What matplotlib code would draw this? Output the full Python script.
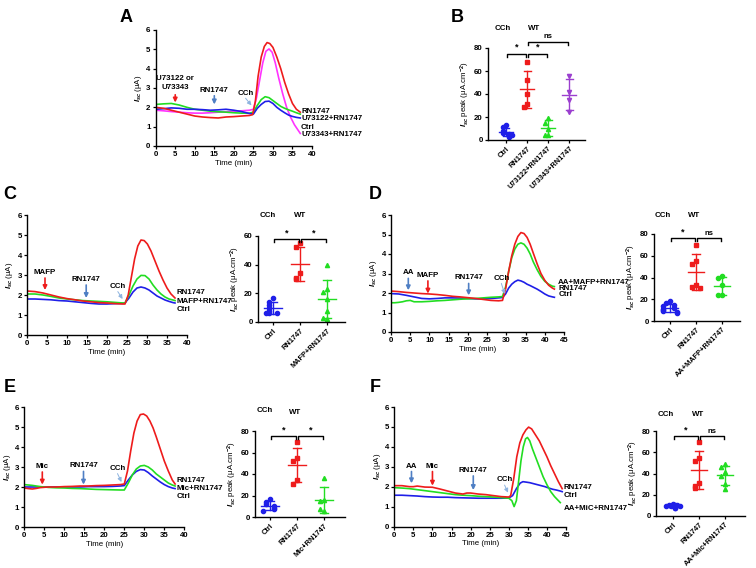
import matplotlib
matplotlib.use('Agg')
import matplotlib.pyplot as plt

FS = 5.7
plt.rcParams['font.family'] = 'Liberation Sans'
plt.rcParams['font.weight'] = 'bold'
plt.rcParams['font.size'] = FS
plt.rcParams['mathtext.fontset'] = 'custom'
plt.rcParams['mathtext.it'] = 'Liberation Sans:italic:bold'
plt.rcParams['mathtext.rm'] = 'Liberation Sans:bold'
plt.rcParams['axes.linewidth'] = 1.0

RED = '#ee1c1c'
GREEN = '#22dd22'
BLUE = '#1f1fe8'
MAGENTA = '#ff33ff'
PURPLE = '#9b3fcf'
ARROW_BLUE = '#4f7fc4'
CCH_BLUE = '#8db3df'

# ---------------- Panel A traces ----------------
a_t_red = [0, 2, 4, 6, 8, 10, 12, 14, 16, 18, 20, 22, 24, 24.8, 25.5, 26.2, 27, 27.8, 28.5, 29.2, 30, 31, 32, 33, 34, 35, 36, 37]
a_red = [2.0, 1.95, 1.85, 1.75, 1.65, 1.55, 1.5, 1.47, 1.45, 1.5, 1.52, 1.55, 1.58, 1.62, 2.3, 3.6, 4.6, 5.15, 5.35, 5.3, 5.1, 4.6, 4.0, 3.3, 2.7, 2.2, 1.9, 1.75]
a_t_mag = [0, 2, 4, 6, 8, 10, 12, 14, 16, 18, 20, 22, 24, 25, 25.8, 26.6, 27.4, 28.2, 29, 29.8, 30.6, 31.5, 32.5, 33.5, 34.5, 35.5, 36.5, 37]
a_mag = [1.85, 1.82, 1.78, 1.75, 1.72, 1.7, 1.7, 1.72, 1.75, 1.77, 1.8, 1.82, 1.85, 1.9, 2.5, 3.4, 4.3, 4.9, 5.02, 4.85, 4.3, 3.5, 2.7, 2.0, 1.5, 1.1, 0.8, 0.65]
a_t_grn = [0, 2, 4, 6, 8, 10, 12, 14, 16, 18, 20, 22, 24, 25, 26, 27, 28, 29, 30, 31, 32, 33, 34, 35, 36, 37]
a_grn = [2.15, 2.18, 2.2, 2.12, 2.0, 1.9, 1.85, 1.8, 1.77, 1.75, 1.72, 1.7, 1.7, 1.75, 2.1, 2.4, 2.55, 2.5, 2.35, 2.2, 2.05, 1.95, 1.87, 1.8, 1.72, 1.65]
a_t_blu = [0, 2, 4, 6, 8, 10, 12, 14, 16, 18, 20, 22, 24, 25, 26, 27, 28, 29, 30, 31, 32, 33, 34, 35, 36, 37]
a_blu = [1.9, 1.93, 1.97, 1.95, 1.9, 1.9, 1.88, 1.85, 1.87, 1.9, 1.85, 1.78, 1.68, 1.65, 1.95, 2.15, 2.3, 2.32, 2.2, 2.0, 1.85, 1.72, 1.6, 1.53, 1.48, 1.45]
a_labels = ['RN1747', 'U73122+RN1747', 'Ctrl', 'U73343+RN1747']
a_label_y = [1.81, 1.4, 0.98, 0.57]

# ---------------- Panel C traces ----------------
c_t_red = [0, 2, 4, 6, 8, 10, 12, 14, 16, 18, 20, 22, 24, 24.5, 25.3, 26.1, 26.9, 27.7, 28.5, 29.3, 30.1, 31, 32, 33, 34, 35, 36, 37]
c_red = [2.2, 2.17, 2.1, 2.0, 1.9, 1.82, 1.76, 1.7, 1.66, 1.62, 1.6, 1.57, 1.55, 1.55, 2.0, 2.9, 3.8, 4.45, 4.75, 4.72, 4.55, 4.2, 3.7, 3.2, 2.75, 2.35, 2.05, 1.85]
c_t_grn = [0, 2, 4, 6, 8, 10, 12, 14, 16, 18, 20, 22, 24, 24.5, 25.5, 26.5, 27.5, 28.5, 29.5, 30.5, 31.5, 32.5, 33.5, 34.5, 35.5, 36.5, 37]
c_grn = [2.05, 2.05, 2.0, 1.93, 1.85, 1.8, 1.76, 1.72, 1.7, 1.68, 1.66, 1.63, 1.6, 1.6, 2.0, 2.45, 2.8, 2.98, 2.97, 2.8, 2.5, 2.25, 2.05, 1.9, 1.8, 1.75, 1.72]
c_t_blu = [0, 2, 4, 6, 8, 10, 12, 14, 16, 18, 20, 22, 24, 24.5, 25.5, 26.5, 27.5, 28.5, 29.5, 30.5, 31.5, 32.5, 33.5, 34.5, 35.5, 36.5, 37]
c_blu = [1.8, 1.8, 1.78, 1.76, 1.72, 1.7, 1.66, 1.62, 1.58, 1.55, 1.55, 1.57, 1.58, 1.6, 1.85, 2.15, 2.35, 2.4, 2.35, 2.25, 2.1, 1.95, 1.85, 1.75, 1.68, 1.62, 1.6]
c_labels = ['RN1747', 'MAFP+RN1747', 'Ctrl']
c_label_y = [2.12, 1.7, 1.28]

# ---------------- Panel D traces ----------------
d_t_red = [0, 2, 4, 6, 8, 10, 12, 14, 16, 18, 20, 22, 24, 26, 28, 29, 29.8, 30.6, 31.4, 32.2, 33, 33.8, 34.6, 35.4, 36.2, 37, 38, 39, 40, 41, 42, 42.5]
d_red = [2.1, 2.07, 2.03, 2.0, 1.97, 1.95, 1.92, 1.88, 1.83, 1.8, 1.76, 1.72, 1.67, 1.62, 1.6, 1.62, 2.2, 3.1, 3.9, 4.5, 4.9, 5.1, 5.05, 4.85, 4.5, 4.05, 3.5, 3.0, 2.65, 2.4, 2.25, 2.2]
d_t_grn = [0, 1, 2, 3, 4, 5, 6, 8, 10, 12, 14, 16, 18, 20, 22, 24, 26, 28, 29, 29.8, 30.6, 31.4, 32.2, 33, 33.8, 34.6, 35.4, 36.2, 37, 38, 39, 40, 41, 42, 42.5]
d_grn = [1.5, 1.5, 1.52, 1.55, 1.6, 1.62, 1.55, 1.55, 1.57, 1.6, 1.62, 1.65, 1.68, 1.7, 1.72, 1.75, 1.78, 1.8, 1.82, 2.3, 3.1, 3.8, 4.25, 4.5, 4.57, 4.5, 4.3, 4.0, 3.6, 3.2, 2.85, 2.6, 2.45, 2.35, 2.33]
d_t_blu = [0, 2, 4, 6, 8, 10, 12, 14, 16, 18, 20, 22, 24, 26, 28, 29, 29.8, 30.6, 31.4, 32.2, 33, 33.8, 34.6, 35.4, 36.2, 37, 38, 39, 40, 41, 42, 42.5]
d_blu = [1.97, 1.95, 1.88, 1.8, 1.72, 1.7, 1.72, 1.75, 1.75, 1.74, 1.72, 1.7, 1.7, 1.72, 1.75, 1.77, 1.95, 2.25, 2.45, 2.58, 2.66, 2.62, 2.55, 2.45, 2.38, 2.3, 2.2, 2.08, 1.95, 1.85, 1.8, 1.78]
d_labels = ['AA+MAFP+RN1747', 'RN1747', 'Ctrl']
d_label_y = [2.56, 2.24, 1.92]

# ---------------- Panel E traces ----------------
e_t_red = [0, 1, 2, 3, 4, 6, 8, 10, 12, 14, 16, 18, 20, 22, 24, 25, 25.8, 26.6, 27.4, 28.2, 29, 29.8, 30.6, 31.4, 32.2, 33, 34, 35, 36, 37, 37.7]
e_red = [1.95, 1.92, 1.9, 1.93, 1.97, 2.0, 2.0, 2.02, 2.03, 2.05, 2.05, 2.07, 2.08, 2.1, 2.12, 2.15, 2.8, 3.8, 4.7, 5.3, 5.62, 5.65, 5.55, 5.3, 4.95, 4.5, 3.9, 3.3, 2.8, 2.35, 2.15]
e_t_grn = [0, 2, 4, 6, 8, 10, 12, 14, 16, 18, 20, 22, 24, 25, 26, 27, 28, 29, 30, 31, 32, 33, 34, 35, 36, 37, 37.7]
e_grn = [2.12, 2.08, 2.02, 1.98, 1.96, 1.95, 1.93, 1.92, 1.9, 1.88, 1.87, 1.86, 1.85, 1.85, 2.2, 2.6, 2.9, 3.05, 3.08, 3.0, 2.85, 2.65, 2.5, 2.35, 2.2, 2.1, 2.05]
e_t_blu = [0, 2, 4, 6, 8, 10, 12, 14, 16, 18, 20, 22, 24, 25, 26, 27, 28, 29, 30, 31, 32, 33, 34, 35, 36, 37, 37.7]
e_blu = [2.0, 2.0, 2.0, 2.0, 2.0, 2.0, 2.0, 2.0, 2.02, 2.02, 2.02, 2.03, 2.05, 2.07, 2.35, 2.6, 2.78, 2.87, 2.85, 2.72, 2.55, 2.4, 2.25, 2.12, 2.02, 1.95, 1.92]
e_labels = ['RN1747', 'Mic+RN1747', 'Ctrl']
e_label_y = [2.33, 1.95, 1.55]

# ---------------- Panel F traces ----------------
f_t_red = [0, 2, 4, 5, 6, 8, 10, 12, 14, 16, 18, 19, 20, 22, 24, 26, 28, 30, 30.5, 31.3, 32.1, 32.9, 33.7, 34.5, 35.2, 36, 37, 38, 39, 40, 41, 42, 43, 44]
f_red = [2.05, 2.05, 2.0, 2.0, 2.03, 1.98, 1.97, 1.88, 1.78, 1.68, 1.63, 1.68, 1.68, 1.63, 1.6, 1.55, 1.5, 1.48, 1.55, 2.4, 3.5, 4.2, 4.6, 4.85, 4.99, 4.9, 4.6, 4.3, 3.9, 3.5, 3.05, 2.65, 2.25, 1.9]
f_t_grn = [0, 2, 4, 6, 8, 10, 12, 14, 16, 18, 20, 22, 24, 26, 28, 30, 30.8, 31.4, 32, 32.6, 33.2, 33.8, 34.4, 34.9, 35.5, 36.2, 37, 38, 39, 40, 41, 42, 43, 43.5]
f_grn = [1.95, 1.93, 1.9, 1.85, 1.8, 1.75, 1.7, 1.65, 1.6, 1.57, 1.55, 1.52, 1.5, 1.48, 1.45, 1.42, 1.3, 1.0, 1.3, 2.3, 3.3, 4.0, 4.4, 4.47, 4.3, 3.9, 3.5, 3.0, 2.5, 2.1, 1.75, 1.5, 1.3, 1.2]
f_t_blu = [0, 2, 4, 6, 8, 10, 12, 14, 16, 18, 20, 22, 24, 26, 28, 30, 31, 32, 33, 33.7, 34.5, 35.5, 36.5, 37.5, 38.5, 39.5, 40.5, 41.5, 42.5, 43.5, 44]
f_blu = [1.57, 1.57, 1.55, 1.53, 1.5, 1.48, 1.47, 1.47, 1.45, 1.44, 1.43, 1.42, 1.42, 1.42, 1.42, 1.43, 1.55, 1.9, 2.18, 2.25, 2.23, 2.2, 2.15, 2.1, 2.05, 2.0, 1.93, 1.87, 1.83, 1.78, 1.75]
f_labels = ['RN1747', 'Ctrl', 'AA+MiC+RN1747']
f_label_y = [1.95, 1.58, 0.9]

# ---------------- Scatter (peak Isc) data ----------------
b_cats = ['Ctrl', 'RN1747', 'U73122+RN1747', 'U73343+RN1747']
b_ctrl = [13, 11, 8, 6, 5, 3, 4]
b_rn = [68, 52, 40, 31, 29]
b_u73122 = [19, 15, 10, 4, 4]
b_u73343 = [56, 42, 35, 24]

c_cats = ['Ctrl', 'RN1747', 'MAFP+RN1747']
c_ctrl = [17, 14, 12, 10, 8, 6, 6, 6]
c_rn = [55, 52, 34, 31, 30]
c_mafp = [40, 23, 21, 16, 8, 2, 3]

d_cats = ['Ctrl', 'RN1747', 'AA+MAFP+RN1747']
d_ctrl = [18, 17, 15, 14, 12, 11, 10, 9, 8, 7]
d_rn = [70, 55, 52, 33, 31, 30]
d_aa = [41, 40, 33, 24, 24]

e_cats = ['Ctrl', 'RN1747', 'Mic+RN1747']
e_ctrl = [17, 14, 12, 10, 8, 7, 6]
e_rn = [70, 55, 52, 34, 31]
e_mic = [36, 16, 15, 6, 7]

f_cats = ['Ctrl', 'RN1747', 'AA+Mic+RN1747']
f_ctrl = [11, 10, 10, 9, 9, 9, 8, 8, 10]
f_rn = [70, 55, 52, 31, 28, 26]
f_aa = [49, 46, 41, 38, 30, 25]

W, H = 756, 568
fig = plt.figure(figsize=(W / 100, H / 100), dpi=100)


def box(x0, y0, x1, y1):
    # axes from pixel corners (top-left origin)
    return fig.add_axes([x0 / W, 1 - y1 / H, (x1 - x0) / W, (y1 - y0) / H])


def style(ax):
    ax.spines['top'].set_visible(False)
    ax.spines['right'].set_visible(False)
    ax.tick_params(length=2.5, width=0.9, pad=1.2, labelsize=FS)


def arrow(ax, x, y0, y1, color, text=None, ty=None, dx=0.0):
    ax.annotate('', xy=(x, y1), xytext=(x - dx, y0),
                arrowprops=dict(arrowstyle='-|>', color=color, lw=1.2 if dx == 0 else 0.7,
                                mutation_scale=6, shrinkA=0, shrinkB=0))
    if text:
        ax.text(x - dx, ty, text, ha='center', va='bottom', fontsize=FS, linespacing=1.3)


def trace_panel(pos, xmax, traces, label_x, labels, label_y, marks):
    ax = box(*pos)
    style(ax)
    for t, y, c in traces:
        ax.plot(t, y, color=c, lw=1.2)
    ax.set_xlim(0, xmax)
    ax.set_ylim(0, 6)
    ax.set_xticks(range(0, xmax + 1, 5))
    ax.set_yticks(range(0, 7))
    ax.set_xlabel('Time (min)', labelpad=1, fontsize=FS)
    ax.set_ylabel(r'$I_{sc}$ (μA)', labelpad=1.5, fontsize=FS)
    for s, yy in zip(labels, label_y):
        ax.text(label_x, yy, s, va='center', ha='left', fontsize=FS, clip_on=False)
    for m in marks:
        arrow(ax, *m)
    return ax


def offsets(vals, tol):
    out = []
    for i, v in enumerate(vals):
        n = sum(abs(v - w) < tol for w in vals[:i])
        out.append([0, -0.15, 0.15, -0.28, 0.28, -0.08, 0.08][min(n, 6)])
    return out


def dot_panel(pos, xlim, ymax, cats, groups, brackets, header_px):
    ax = box(*pos)
    style(ax)
    for i, (vals, c, mk) in enumerate(groups):
        m = sum(vals) / len(vals)
        sd = (sum((v - m) ** 2 for v in vals) / (len(vals) - 1)) ** 0.5
        xs = [i + o for o in offsets(vals, ymax * 0.06)]
        ax.plot(xs, vals, mk, color=c, ms=3.0, ls='none', clip_on=False)
        ax.plot([i - 0.32, i + 0.32], [m, m], color=c, lw=1.0)
        ax.plot([i, i], [max(m - sd, 0), m + sd], color=c, lw=1.0)
        for e in (m - sd, m + sd):
            if e > 0:
                ax.plot([i - 0.16, i + 0.16], [e, e], color=c, lw=1.0)
    for x1, x2, y, s in brackets:
        tk = ymax * 0.035
        ax.plot([x1 + 0.05, x1 + 0.05, x2 - 0.05, x2 - 0.05], [y - tk, y, y, y - tk],
                color='black', lw=1.0, clip_on=False)
        ax.text((x1 + x2) / 2, y + ymax * 0.02, s, ha='center', va='bottom',
                fontsize=5.5 if s == 'ns' else 6.5, clip_on=False)
    ax.set_xlim(*xlim)
    ax.set_ylim(0, ymax)
    ax.set_yticks(range(0, ymax + 1, 20))
    ax.set_xticks(range(len(cats)))
    ax.set_xticklabels(cats, rotation=45, ha='right', rotation_mode='anchor', fontsize=5.3)
    ax.set_ylabel(r'$I_{sc}$ peak (μA.cm$^{-2}$)', labelpad=1.5, fontsize=FS)
    (cx, cy), (wx, wy) = header_px
    fig.text(cx / W, 1 - cy / H, 'CCh', ha='center', va='center', fontsize=FS)
    fig.text(wx / W, 1 - wy / H, 'WT', ha='center', va='center', fontsize=FS)
    return ax


# Panel A
trace_panel((155.7, 30, 312, 146), 40,
            [(a_t_mag, a_mag, MAGENTA), (a_t_grn, a_grn, GREEN), (a_t_blu, a_blu, BLUE), (a_t_red, a_red, RED)],
            37.2, a_labels, a_label_y,
            [(5, 2.65, 2.25, RED, 'U73122 or\nU73343', 2.85),
             (15, 2.6, 2.15, ARROW_BLUE, 'RN1747', 2.7),
             (24.5, 2.47, 2.1, CCH_BLUE, 'CCh', 2.55, 1.5)])

# Panel C
trace_panel((27, 215, 187, 335), 40,
            [(c_t_blu, c_blu, BLUE), (c_t_grn, c_grn, GREEN), (c_t_red, c_red, RED)],
            37.4, c_labels, c_label_y,
            [(4.5, 2.85, 2.25, RED, 'MAFP', 2.95),
             (14.8, 2.5, 1.85, ARROW_BLUE, 'RN1747', 2.6),
             (23.9, 2.17, 1.8, CCH_BLUE, 'CCh', 2.25, 1.2)])

# Panel D
trace_panel((391, 215, 564, 332), 45,
            [(d_t_blu, d_blu, BLUE), (d_t_grn, d_grn, GREEN), (d_t_red, d_red, RED)],
            43.5, d_labels, d_label_y,
            [(4.5, 2.75, 2.14, ARROW_BLUE, 'AA', 2.85),
             (9.6, 2.62, 1.97, RED, 'MAFP', 2.72),
             (20.2, 2.49, 1.88, ARROW_BLUE, 'RN1747', 2.6),
             (29.6, 2.49, 1.95, CCH_BLUE, 'CCh', 2.58, 0.9)])

# Panel E
trace_panel((24.3, 407, 184.3, 527), 40,
            [(e_t_blu, e_blu, BLUE), (e_t_grn, e_grn, GREEN), (e_t_red, e_red, RED)],
            38.1, e_labels, e_label_y,
            [(4.5, 2.75, 2.12, RED, 'Mic', 2.85),
             (14.8, 2.78, 2.12, ARROW_BLUE, 'RN1747', 2.88),
             (24.3, 2.67, 2.25, CCH_BLUE, 'CCh', 2.76, 1.0)])

# Panel F
trace_panel((394.3, 407, 566, 526.5), 45,
            [(f_t_blu, f_blu, BLUE), (f_t_grn, f_grn, GREEN), (f_t_red, f_red, RED)],
            44.4, f_labels, f_label_y,
            [(4.5, 2.76, 2.17, ARROW_BLUE, 'AA', 2.85),
             (10, 2.76, 2.05, RED, 'Mic', 2.85),
             (20.7, 2.54, 1.83, ARROW_BLUE, 'RN1747', 2.64),
             (29.8, 2.08, 1.7, CCH_BLUE, 'CCh', 2.2, 0.9)])

# Scatter panels
dot_panel((488, 48, 585, 140), (-0.86, 3.75), 80, b_cats,
          [(b_ctrl, BLUE, 'o'), (b_rn, RED, 's'), (b_u73122, GREEN, '^'), (b_u73343, PURPLE, 'v')],
          [(0, 1, 75, '*'), (1, 2, 75, '*'), (1, 3, 85, 'ns')],
          ((503, 28), (534, 28)))
dot_panel((258, 236, 345, 322), (-0.56, 2.67), 60, c_cats,
          [(c_ctrl, BLUE, 'o'), (c_rn, RED, 's'), (c_mafp, GREEN, '^')],
          [(0, 1, 58, '*'), (1, 2, 58, '*')],
          ((268, 216), (300, 216)))
dot_panel((654, 234, 740, 321), (-0.62, 2.69), 80, d_cats,
          [(d_ctrl, BLUE, 'o'), (d_rn, RED, 's'), (d_aa, GREEN, 'o')],
          [(0, 1, 76, '*'), (1, 2, 76, 'ns')],
          ((663, 216), (694, 216)))
dot_panel((255, 431, 345, 517), (-0.56, 2.78), 80, e_cats,
          [(e_ctrl, BLUE, 'o'), (e_rn, RED, 's'), (e_mic, GREEN, '^')],
          [(0, 1, 75, '*'), (1, 2, 75, '*')],
          ((265, 411), (295, 412)))
dot_panel((656, 431, 745, 516), (-0.65, 2.77), 80, f_cats,
          [(f_ctrl, BLUE, 'o'), (f_rn, RED, 's'), (f_aa, GREEN, '^')],
          [(0, 1, 75, '*'), (1, 2, 75, 'ns')],
          ((666, 414), (698, 414)))

for s, x, y in [('A', 126, 18), ('B', 457, 18), ('C', 10, 195), ('D', 375, 195), ('E', 10, 387), ('F', 375, 387)]:
    fig.text(x / W, 1 - y / H, s, ha='center', va='center', fontsize=13, fontweight='bold')

fig.savefig('out.png', dpi=100)
